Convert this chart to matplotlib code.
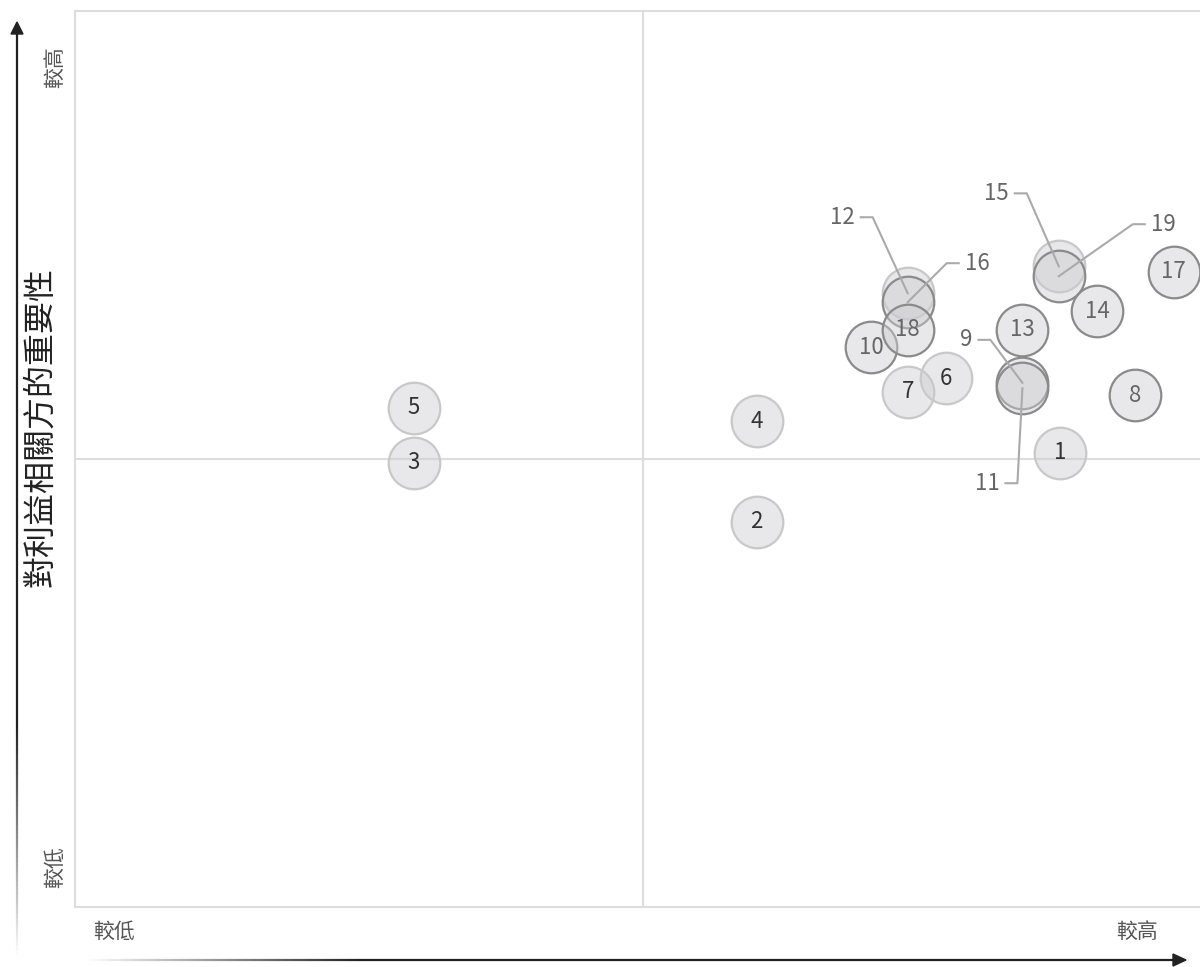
import numpy as np
import matplotlib
matplotlib.use("Agg")
import matplotlib.pyplot as plt
from matplotlib.lines import Line2D
from matplotlib.patches import Polygon
from matplotlib.collections import LineCollection
from matplotlib.transforms import IdentityTransform

plt.rcParams['font.family'] = ['Noto Sans CJK TC', 'DejaVu Sans']

# ---- data ----
ids = [str(i) for i in range(1, 20)]
impact = [8.67, 6.00, 2.98, 6.00, 2.98, 7.67, 7.33, 9.33, 8.34, 7.01,
          8.34, 7.33, 8.34, 9.00, 8.66, 7.33, 9.67, 7.33, 8.66]
importance = [5.07, 4.30, 4.96, 5.42, 5.57, 5.90, 5.75, 5.71, 5.85, 6.25,
              5.79, 6.85, 6.44, 6.65, 7.15, 6.75, 7.09, 6.44, 7.04]
dark_edge = [False, False, False, False, False, False, False, True, True, True,
             True, False, True, True, False, True, True, True, True]
y_title = "對利益相關方的重要性"
low_label = "較低"
high_label = "較高"

# leader labels: id -> (knee offset px (dx, dy up), side)
leaders = {
    '12': (-35, 76, 'left'),
    '16': (39, 39, 'right'),
    '15': (-32, 73, 'left'),
    '19': (74, 52, 'right'),
    '9': (-32, 43, 'left'),
    '11': (-5, -95, 'left'),
}

W, H = 1200, 967
fig = plt.figure(figsize=(W / 100, H / 100), dpi=100)
ax = fig.add_axes([75 / W, 60 / H, 1136 / W, 896 / H])
ax.set_xlim(0, 10)
ax.set_ylim(0, 10)
ax.set_xticks([])
ax.set_yticks([])
for s in ax.spines.values():
    s.set_color('#dddddd')
    s.set_linewidth(1.5)
ax.axvline(5, color='#dddddd', lw=1.5, zorder=1)
ax.axhline(5, color='#dddddd', lw=1.5, zorder=1)

face = (0.80, 0.80, 0.82, 0.45)
for i, (x, y) in enumerate(zip(impact, importance)):
    ec = '#8a8a8a' if dark_edge[i] else '#c8c8c8'
    ax.scatter([x], [y], s=1380, facecolor=[face], edgecolor=ec,
               linewidths=1.6, zorder=3 + i * 0.01, clip_on=False)
    if ids[i] not in leaders:
        tc = '#666666' if dark_edge[i] else '#333333'
        ax.text(x, y, ids[i], ha='center', va='center', fontsize=16,
                fontweight='light', color=tc, zorder=5)

fig.canvas.draw()
ident = IdentityTransform()
for i, lab in enumerate(ids):
    if lab not in leaders:
        continue
    dx, dy, side = leaders[lab]
    px, py = ax.transData.transform((impact[i], importance[i]))
    kx, ky = px + dx, py + dy
    ex = kx - 12 if side == 'left' else kx + 12
    fig.add_artist(Line2D([px, kx, ex], [py, ky, ky], color='#aaaaaa',
                          lw=1.5, transform=ident, zorder=6))
    tx = ex - 6 if side == 'left' else ex + 6
    fig.text(tx, ky, lab, transform=ident, fontsize=16, fontweight='light',
             color='#666666', ha='right' if side == 'left' else 'left',
             va='center')

# gradient arrows
def grad_line(x0, y0, x1, y1, n=200):
    xs = np.linspace(x0, x1, n + 1)
    ys = np.linspace(y0, y1, n + 1)
    segs = [[(xs[k], ys[k]), (xs[k + 1], ys[k + 1])] for k in range(n)]
    alphas = np.clip(np.linspace(0, 1, n) * 4.0, 0, 1)
    cols = [(0.13, 0.13, 0.13, a) for a in alphas]
    lc = LineCollection(segs, colors=cols, linewidths=1.6, transform=ident)
    fig.add_artist(lc)

# y arrow (image coords: x=17, from bottom to top)
grad_line(17, H - 960, 17, H - 30)
fig.add_artist(Polygon([(17, H - 22), (11, H - 34), (23, H - 34)],
                       closed=True, color='#222222', transform=ident))
# x arrow
grad_line(85, H - 960, 1178, H - 960)
fig.add_artist(Polygon([(1186, H - 960), (1173, H - 954), (1173, H - 966)],
                       closed=True, color='#222222', transform=ident))

fig.text(40 / W, 1 - 427 / H, y_title, rotation=90, fontsize=23,
         color='#222222', ha='center', va='center')
fig.text(55 / W, 1 - 67 / H, high_label, rotation=90, fontsize=15,
         fontweight='light', color='#555555', ha='center', va='center')
fig.text(55 / W, 1 - 867 / H, low_label, rotation=90, fontsize=15,
         fontweight='light', color='#555555', ha='center', va='center')
fig.text(114 / W, 1 - 932 / H, low_label, fontsize=15, fontweight='light',
         color='#555555', ha='center', va='center')
fig.text(1137 / W, 1 - 932 / H, high_label, fontsize=15, fontweight='light',
         color='#555555', ha='center', va='center')

fig.savefig('out.png', dpi=100)
